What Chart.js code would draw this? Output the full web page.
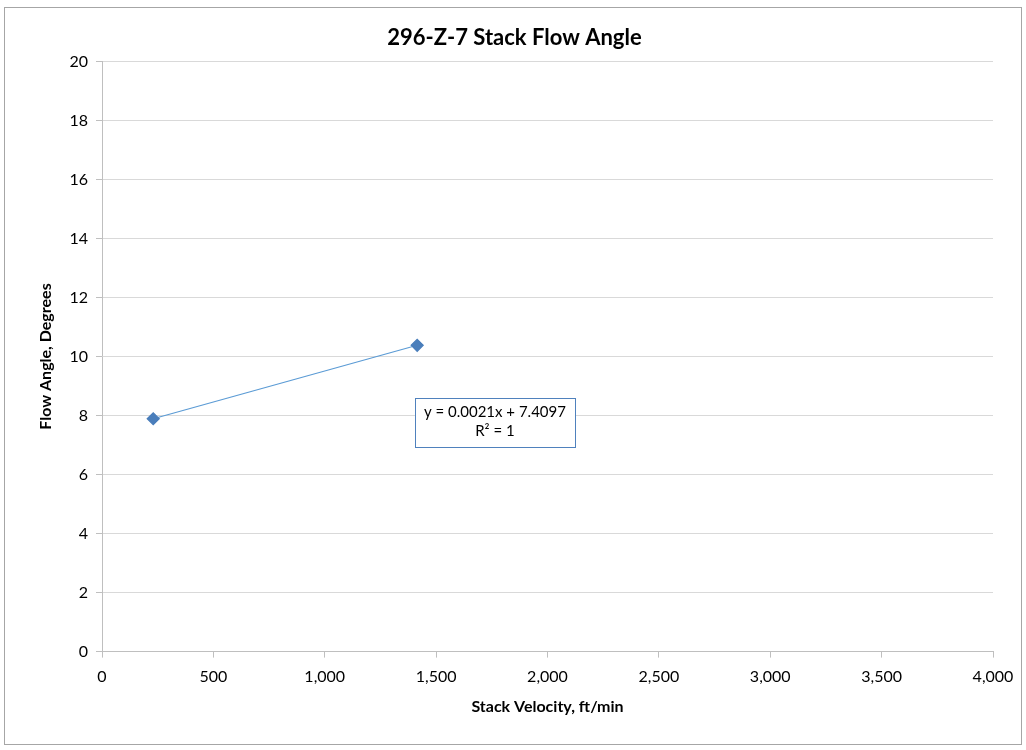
<!DOCTYPE html>
<html>
<head>
<meta charset="utf-8">
<script src="https://cdn.jsdelivr.net/npm/chart.js@4/dist/chart.umd.min.js"></script>
<style>
    body { margin: 0; background: #fff; }
    #wrap { position: relative; width: 1026px; height: 750px; }
    #frame { position: absolute; left: 4px; top: 7px; width: 1016px; height: 736px; border: 1px solid #a6a6a6; }
    canvas { position: absolute; left: 0; top: 0; }
</style>
</head>
<body>
<div id="wrap">
    <div id="frame"></div>
    <canvas id="FlowAngleChart" width="1026" height="750"></canvas>
</div>
<script>
// data
var stackVelocity = [230, 1415];
var flowAngle = [7.89, 10.38];
var trendLabel = ["y = 0.0021x + 7.4097", "R\u00B2 = 1"];
var trendLabelAt = { x: 1764, y: 8.58 }; // top centre of the label box, data units

var xTickMin = 0, xTickMax = 4000, xTickStep = 500;
var yTickMin = 0, yTickMax = 20, yTickStep = 2;

var chartFont = "Lato, 'Open Sans', sans-serif";

// draws the trendline equation box (Excel style)
var trendLabelPlugin = {
    id: "trendLabel",
    afterDatasetsDraw: function (chart) {
        var ctx = chart.ctx;
        var cx = chart.scales.x.getPixelForValue(trendLabelAt.x);
        var top = chart.scales.y.getPixelForValue(trendLabelAt.y);
        ctx.save();
        ctx.font = "15px " + chartFont;
        var boxW = 160, boxH = 49;
        ctx.fillStyle = "#fff";
        ctx.fillRect(cx - boxW / 2, top, boxW, boxH);
        ctx.strokeStyle = "#4f81bd";
        ctx.lineWidth = 1;
        ctx.strokeRect(Math.round(cx - boxW / 2) + 0.5, Math.round(top) + 0.5, boxW, boxH);
        ctx.fillStyle = "#000";
        ctx.textAlign = "center";
        ctx.textBaseline = "middle";
        ctx.fillText(trendLabel[0], cx, top + 14);
        ctx.fillText(trendLabel[1], cx, top + 33);
        ctx.restore();
    }
};

const data = {
    datasets: [{
        label: "Flow Angle",
        data: stackVelocity.map(function (v, i) { return { x: v, y: flowAngle[i] }; }),
        showLine: true,
        borderColor: "#5b9bd5",
        borderWidth: 1.2,
        pointStyle: "rectRot",
        pointRadius: 6,
        pointHoverRadius: 6,
        pointBackgroundColor: "#4a7ebb",
        pointBorderColor: "#4a7ebb",
        fill: false
    }]
};

const config = {
    type: "scatter",
    data: data,
    plugins: [trendLabelPlugin],
    options: {
        responsive: false,
        animation: false,
        layout: { padding: { top: 0, right: 33, bottom: 34, left: 36 } },
        plugins: {
            legend: { display: false },
            tooltip: { enabled: false },
            title: {
                display: true,
                text: "296-Z-7 Stack Flow Angle",
                color: "#000",
                font: { family: chartFont, size: 22, weight: "bold" },
                padding: { top: 25, bottom: 10 }
            }
        },
        scales: {
            x: {
                type: "linear",
                min: xTickMin,
                max: xTickMax,
                ticks: {
                    stepSize: xTickStep,
                    color: "#000",
                    font: { family: chartFont, size: 16 },
                    padding: 10,
                    callback: function (value) { return value.toLocaleString("en-US"); }
                },
                grid: { drawOnChartArea: false, color: "#bfbfbf", tickLength: 6 },
                border: { color: "#bfbfbf" },
                title: {
                    display: true,
                    text: "Stack Velocity, ft/min",
                    color: "#000",
                    font: { family: chartFont, size: 16, weight: "bold" },
                    padding: { top: 0, bottom: 0 }
                }
            },
            y: {
                type: "linear",
                min: yTickMin,
                max: yTickMax,
                ticks: {
                    stepSize: yTickStep,
                    color: "#000",
                    font: { family: chartFont, size: 16 },
                    padding: 8
                },
                grid: { color: "#d9d9d9", tickLength: 6, tickColor: "#bfbfbf" },
                border: { color: "#bfbfbf" },
                title: {
                    display: true,
                    text: "Flow Angle, Degrees",
                    color: "#000",
                    font: { family: chartFont, size: 16, weight: "bold" },
                    padding: { top: 0, bottom: 10 }
                },
                afterFit: function (scale) { scale.width = 66; }
            }
        }
    }
};

var myChart = new Chart(document.getElementById("FlowAngleChart"), config);
</script>
</body>
</html>
